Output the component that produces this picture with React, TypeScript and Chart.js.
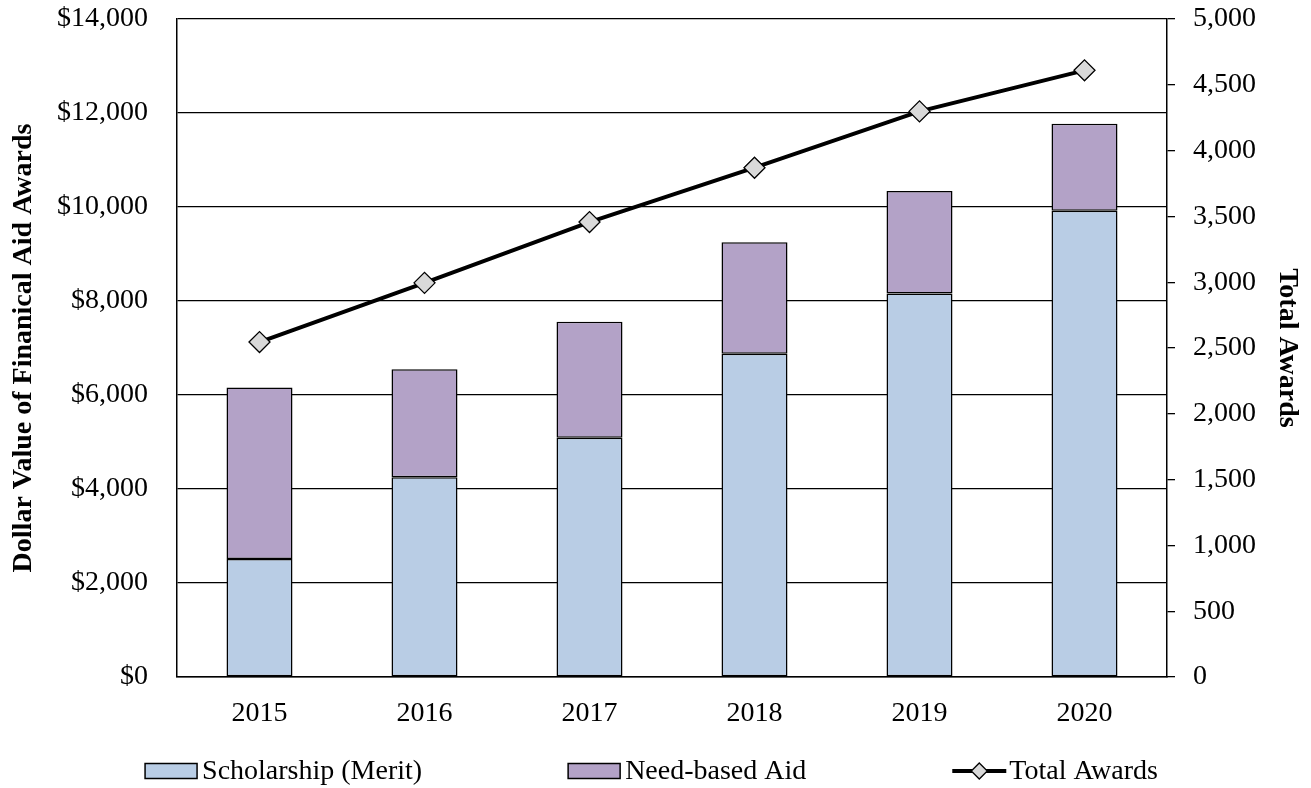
import React, { useEffect, useRef } from "react";
import { Chart, registerables } from "chart.js";

Chart.register(...registerables);

const years = ["2015", "2016", "2017", "2018", "2019", "2020"];
const meritValues = [2510, 4250, 5090, 6880, 8160, 9920];
const needBasedValues = [3650, 2300, 2470, 2370, 2180, 1850];
const totalAwards = [2545, 2995, 3457, 3870, 4298, 4610];

const seriesNames = ["Scholarship (Merit)", "Need-based Aid", "Total Awards"];
const leftTitle = "Dollar Value of Finanical Aid Awards";
const rightTitle = "Total Awards";

const FONT = "'Liberation Serif', 'Times New Roman', serif";
const MERIT_COLOR = "#B9CDE5";
const NEED_COLOR = "#B3A2C7";
const MARKER_COLOR = "#D9D9D9";

const legendPlugin = {
  id: "customLegend",
  afterDraw(chart: any) {
    const ctx = chart.ctx as CanvasRenderingContext2D;
    ctx.save();
    ctx.font = `28px ${FONT}`;
    ctx.textBaseline = "middle";
    ctx.textAlign = "left";
    const symW = 52;
    const symGap = 5;
    const itemGap = 146;
    const cy = 771;
    const datasets = chart.data.datasets;
    const widths = datasets.map(
      (ds: any) => symW + symGap + ctx.measureText(ds.label).width
    );
    const total =
      widths.reduce((a: number, b: number) => a + b, 0) +
      itemGap * (datasets.length - 1);
    let x = (chart.width - total) / 2 - 4;
    datasets.forEach((ds: any, i: number) => {
      if (ds.type === "line") {
        ctx.strokeStyle = "#000";
        ctx.lineWidth = 4;
        ctx.beginPath();
        ctx.moveTo(x, cy);
        ctx.lineTo(x + symW + 2, cy);
        ctx.stroke();
        const r = 8;
        const mx = x + (symW + 2) / 2;
        ctx.beginPath();
        ctx.moveTo(mx, cy - r);
        ctx.lineTo(mx + r, cy);
        ctx.lineTo(mx, cy + r);
        ctx.lineTo(mx - r, cy);
        ctx.closePath();
        ctx.fillStyle = MARKER_COLOR;
        ctx.fill();
        ctx.lineWidth = 1.3;
        ctx.stroke();
      } else {
        ctx.fillStyle = ds.backgroundColor;
        ctx.fillRect(x, cy - 7.5, symW, 15);
        ctx.strokeStyle = "#000";
        ctx.lineWidth = 1.5;
        ctx.strokeRect(x, cy - 7.5, symW, 15);
      }
      ctx.fillStyle = "#000";
      ctx.fillText(ds.label, x + symW + symGap, cy + 1);
      x += widths[i] + itemGap;
    });
    ctx.restore();
  },
};

export default function App() {
  const canvasRef = useRef<HTMLCanvasElement | null>(null);

  useEffect(() => {
    if (!canvasRef.current) return;
    const chart = new Chart(canvasRef.current, {
      type: "bar",
      data: {
        labels: years,
        datasets: [
          {
            type: "bar",
            label: seriesNames[0],
            data: meritValues,
            backgroundColor: MERIT_COLOR,
            borderColor: "#000",
            borderWidth: 1.5,
            borderSkipped: false,
            barPercentage: 0.4,
            categoryPercentage: 1.0,
            yAxisID: "y",
            order: 2,
          },
          {
            type: "bar",
            label: seriesNames[1],
            data: needBasedValues,
            backgroundColor: NEED_COLOR,
            borderColor: "#000",
            borderWidth: 1.5,
            borderSkipped: false,
            barPercentage: 0.4,
            categoryPercentage: 1.0,
            yAxisID: "y",
            order: 2,
          },
          {
            type: "line",
            label: seriesNames[2],
            data: totalAwards,
            borderColor: "#000",
            borderWidth: 4,
            tension: 0,
            pointStyle: "rectRot",
            pointRadius: 10.5,
            pointBackgroundColor: MARKER_COLOR,
            pointBorderColor: "#000",
            pointBorderWidth: 1.3,
            yAxisID: "y1",
            order: 0,
          } as any,
        ],
      },
      options: {
        animation: false,
        responsive: false,
        layout: { padding: { top: 19, left: 0, right: 0, bottom: 0 } },
        plugins: {
          legend: { display: false },
          tooltip: { enabled: false },
        },
        scales: {
          x: {
            stacked: true,
            grid: { display: false },
            border: { color: "#000", width: 1.5 },
            ticks: {
              color: "#000",
              padding: 12,
              font: { family: FONT, size: 28 },
            },
            afterFit: (s: any) => {
              s.height = 111;
              s.paddingLeft = 0;
              s.paddingRight = 0;
            },
          },
          y: {
            stacked: true,
            position: "left",
            min: 0,
            max: 14000,
            grid: { color: "#000", lineWidth: 1.3, drawTicks: false },
            border: { color: "#000", width: 1.5 },
            ticks: {
              stepSize: 2000,
              color: "#000",
              padding: 29,
              font: { family: FONT, size: 28 },
              callback: (v: any) => "$" + Number(v).toLocaleString("en-US"),
            },
            title: {
              display: true,
              text: leftTitle,
              color: "#000",
              padding: { top: 7, bottom: 0 },
              font: { family: FONT, size: 28, weight: "bold" },
            },
            afterFit: (s: any) => {
              s.width = 177;
              s.paddingTop = 0;
              s.paddingBottom = 0;
            },
          },
          y1: {
            position: "right",
            min: 0,
            max: 5000,
            grid: {
              drawOnChartArea: false,
              color: "#000",
              lineWidth: 1.3,
              tickLength: 8,
            },
            border: { color: "#000", width: 1.5 },
            ticks: {
              stepSize: 500,
              color: "#000",
              padding: 18,
              font: { family: FONT, size: 28 },
              callback: (v: any) => Number(v).toLocaleString("en-US"),
            },
            title: {
              display: true,
              text: rightTitle,
              color: "#000",
              padding: { top: 7, bottom: 0 },
              font: { family: FONT, size: 28, weight: "bold" },
            },
            afterFit: (s: any) => {
              s.width = 144;
              s.paddingTop = 0;
              s.paddingBottom = 0;
            },
          },
        },
      } as any,
      plugins: [legendPlugin],
    });
    return () => chart.destroy();
  }, []);

  return (
    <div
      style={{
        position: "fixed",
        left: 0,
        top: 0,
        width: 1311,
        height: 788,
        background: "#fff",
      }}
    >
      <canvas ref={canvasRef} width={1311} height={788} />
    </div>
  );
}
